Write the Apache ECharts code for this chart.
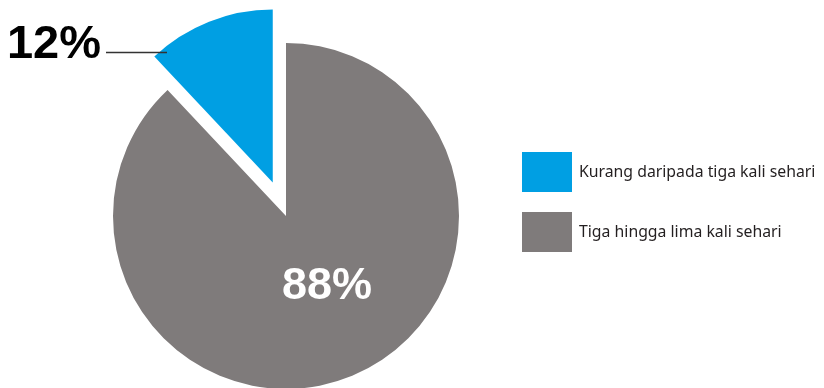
<!DOCTYPE html>
<html>
<head>
<meta charset="utf-8">
<script src="https://cdn.jsdelivr.net/npm/echarts@6/dist/echarts.min.js"></script>
<style>html,body{margin:0;padding:0;background:#fff;}#c{width:824px;height:388px;}</style>
</head>
<body>
<div id="c"></div>
<script>
const categories = ['Tiga hingga lima kali sehari', 'Kurang daripada tiga kali sehari'];
const values = [88, 12];
const labels = ['88%', '12%'];
const colors = ['#7f7b7b', '#009fe3'];
const legendOrder = ['Kurang daripada tiga kali sehari', 'Tiga hingga lima kali sehari'];

const CX = 286, CY = 216, R = 173, OFFSET = 36;
// exploded small slice: shift its pie centre along the slice's mid angle
const smallMid = (90 + 360 * values[1] / (values[0] + values[1]) / 2) * Math.PI / 180;
const tx = OFFSET * Math.cos(smallMid);
const ty = -OFFSET * Math.sin(smallMid);
const HIDDEN = 'rgba(0,0,0,0)';

const chart = echarts.init(document.getElementById('c'), null, {renderer: 'canvas'});

// main series: draws the large slice and carries both labels (drawn on top)
const mainData = categories.map((name, i) => {
  const isSmall = i === 1;
  return {
    name: name,
    value: values[i],
    itemStyle: {color: isSmall ? HIDDEN : colors[i]},
    label: isSmall ? {
      show: true, position: 'outside', formatter: labels[i],
      fontSize: 47, fontWeight: 'bold', color: '#000', fontFamily: 'Liberation Sans'
    } : {
      show: true, position: 'inside', formatter: labels[i],
      fontSize: 45, fontWeight: 'bold', color: '#fff', fontFamily: 'Liberation Sans'
    },
    labelLine: isSmall ? {show: true, lineStyle: {color: '#333', width: 1.4}} : {show: false}
  };
});
// exploded series: draws only the small slice
const explodedData = categories.map((name, i) => ({
  name: name,
  value: values[i],
  itemStyle: {color: i === 1 ? colors[i] : HIDDEN},
  label: {show: false},
  labelLine: {show: false}
}));

const baseSeries = {
  type: 'pie',
  radius: [0, R],
  startAngle: 90,
  clockwise: true,
  silent: true,
  avoidLabelOverlap: false,
  emphasis: {disabled: true}
};

chart.setOption({
  animation: false,
  legend: {
    orient: 'vertical',
    left: 522, top: 152, padding: 0,
    itemWidth: 50, itemHeight: 40, itemGap: 20,
    icon: 'rect',
    data: legendOrder.map(n => ({name: n, itemStyle: {color: colors[categories.indexOf(n)], opacity: 1}})),
    selectedMode: false,
    textStyle: {fontSize: 15.8, color: '#231f20', fontFamily: 'Noto Sans', padding: [0, 0, 0, 2]}
  },
  series: [
    Object.assign({}, baseSeries, {
      name: 'exploded',
      z: 2,
      center: [CX + tx, CY + ty],
      data: explodedData
    }),
    Object.assign({}, baseSeries, {
      name: 'main',
      z: 4,
      center: [CX, CY],
      data: mainData,
      labelLayout: function (p) {
        if (p.dataIndex === 0) return {x: 327, y: 287, align: 'center', verticalAlign: 'middle'};
        return {x: 101, y: 45, align: 'right', verticalAlign: 'middle',
          labelLinePoints: [[167, 52.5], [106, 52.5], [106, 52.5]]};
      }
    })
  ]
});
</script>
</body>
</html>
